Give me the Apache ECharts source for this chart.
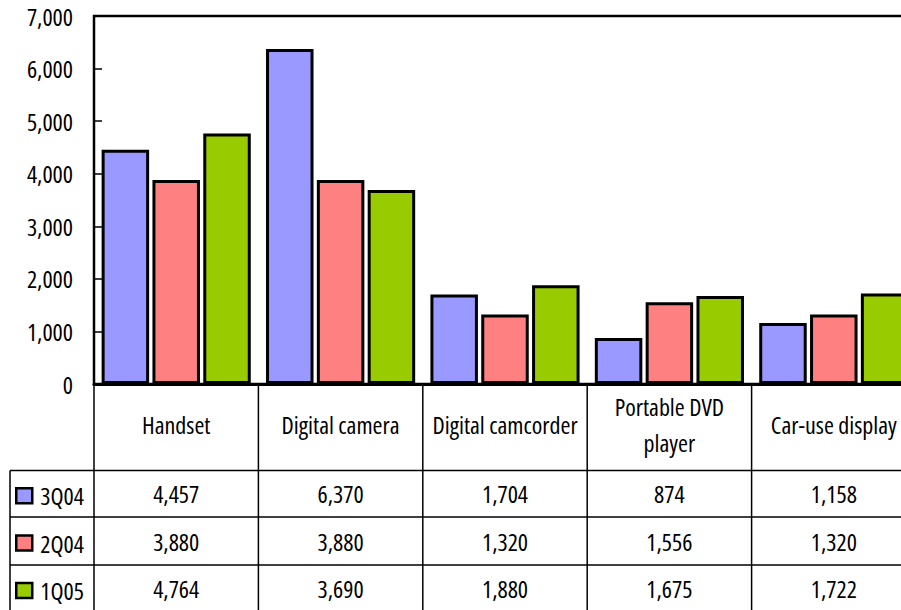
<!DOCTYPE html>
<html>
<head>
<meta charset="utf-8">
<script src="https://cdn.jsdelivr.net/npm/echarts@6/dist/echarts.min.js"></script>
<style>
  html, body { margin: 0; padding: 0; background: #fff; }
  #chart { width: 901px; height: 610px; }
  /* narrow face of the text font for every label in the chart */
  #chart svg text { font-stretch: condensed !important; }
</style>
</head>
<body>
<div id="chart"></div>
<script>
// Shipments by product, three quarters
const categories = ['Handset', 'Digital camera', 'Digital camcorder', 'Portable DVD player', 'Car-use display'];
const seriesNames = ['3Q04', '2Q04', '1Q05'];
const values3Q04 = [4457, 6370, 1704, 874, 1158];
const values2Q04 = [3880, 3880, 1320, 1556, 1320];
const values1Q05 = [4764, 3690, 1880, 1675, 1722];
const seriesColors = ['#9999FF', '#FF8080', '#99CC00'];
const yMin = 0, yMax = 7000, yStep = 1000;

const seriesValues = [values3Q04, values2Q04, values1Q05];
const FONT = "'Open Sans', sans-serif";
const FS = 24;
const fmt = v => Number(v).toLocaleString('en-US');

// table geometry (rows below the plot)
const plotTop = 16, plotBottom = 384, plotLeft = 94, plotWidth = 822;
const headerBottom = 470.5;
const rowBounds = [headerBottom, 517, 565, 612];
const legendColLeft = 10;

// width of a string in the condensed face
const measureCtx = document.createElement('canvas').getContext('2d');
measureCtx.font = FS + 'px ' + FONT;
const stretchOk = 'fontStretch' in measureCtx;
if (stretchOk) measureCtx.fontStretch = 'condensed';
const textWidth = s => measureCtx.measureText(s).width * (stretchOk ? 1 : 0.75);

// greedy word wrap of a header cell
function wrap(label, maxW) {
  const words = label.split(' ');
  const lines = [];
  let cur = '';
  words.forEach(w => {
    const trial = cur ? cur + ' ' + w : w;
    if (cur && textWidth(trial) > maxW) { lines.push(cur); cur = w; }
    else cur = trial;
  });
  if (cur) lines.push(cur);
  return lines.join('\n');
}

const chart = echarts.init(document.getElementById('chart'), null, { renderer: 'svg' });

chart.setOption({
  animation: false,
  backgroundColor: '#fff',
  textStyle: { fontFamily: FONT },
  grid: {
    left: plotLeft, top: plotTop, width: plotWidth, height: plotBottom - plotTop,
    containLabel: false, outerBoundsMode: 'none',
    show: true, borderColor: '#000', borderWidth: 2.5, backgroundColor: 'transparent'
  },
  xAxis: {
    type: 'category',
    data: categories,
    axisLine: { show: true, lineStyle: { color: '#000', width: 3 } },
    axisTick: { show: false },
    axisLabel: { show: false },
    splitLine: { show: false }
  },
  yAxis: {
    type: 'value',
    min: yMin, max: yMax, interval: yStep,
    axisLine: { show: true, lineStyle: { color: '#000', width: 2 } },
    axisTick: { show: true, inside: true, length: 8, lineStyle: { color: '#000', width: 1.5 } },
    axisLabel: {
      margin: 21, color: '#000', fontSize: FS, fontFamily: FONT,
      padding: [0, 0, 3, 0],
      formatter: v => fmt(v)
    },
    splitLine: { show: false }
  },
  legend: seriesNames.map((n, i) => ({
    data: [n],
    left: 10,
    top: (rowBounds[i] + rowBounds[i + 1]) / 2 - 15,
    itemWidth: 16, itemHeight: 15, itemGap: 6,
    icon: 'rect',
    itemStyle: { borderColor: '#000', borderWidth: 2.5 },
    textStyle: { color: '#000', fontSize: FS, fontFamily: FONT, padding: [0, 0, 0, 3] },
    selectedMode: false
  })),
  series: seriesNames.map((n, i) => ({
    name: n,
    type: 'bar',
    data: seriesValues[i],
    barWidth: 47.5,
    barGap: '7%',
    itemStyle: { color: seriesColors[i], borderColor: '#000', borderWidth: 3 }
  }))
});

// Data table drawn under the category axis, aligned with the category bands
function buildTable() {
  const centers = categories.map((c, i) => chart.convertToPixel({ xAxisIndex: 0 }, i));
  const band = centers.length > 1 ? centers[1] - centers[0] : plotWidth;
  const edges = centers.map(c => c - band / 2).concat([centers[centers.length - 1] + band / 2]);
  const right = edges[edges.length - 1];
  const line = (x1, y1, x2, y2) => ({
    type: 'line', silent: true, z: 100,
    shape: { x1, y1, x2, y2 },
    style: { stroke: '#000', lineWidth: 1.5 }
  });
  const text = (t, x, y) => ({
    type: 'text', silent: true, z: 100,
    style: {
      text: t, x, y,
      lineHeight: 36,
      align: 'center', verticalAlign: 'middle',
      textAlign: 'center', textVerticalAlign: 'middle',
      fontSize: FS, fontFamily: FONT, fill: '#000'
    }
  });
  const els = [];
  // vertical rules
  edges.forEach(x => els.push(line(x, plotBottom, x, rowBounds[rowBounds.length - 1])));
  els.push(line(legendColLeft, headerBottom, legendColLeft, rowBounds[rowBounds.length - 1]));
  // horizontal rules
  rowBounds.forEach(y => els.push(line(legendColLeft, y, right, y)));
  // header row with category names
  const headerMid = (plotBottom + headerBottom) / 2 - 2.5;
  centers.forEach((cx, i) => els.push(text(wrap(categories[i], band - 12), cx, headerMid)));
  // value rows
  seriesValues.forEach((vals, r) => {
    const my = (rowBounds[r] + rowBounds[r + 1]) / 2;
    centers.forEach((cx, i) => els.push(text(fmt(vals[i]), cx, my)));
  });
  chart.setOption({ graphic: { elements: els } });
}
buildTable();
</script>
</body>
</html>
